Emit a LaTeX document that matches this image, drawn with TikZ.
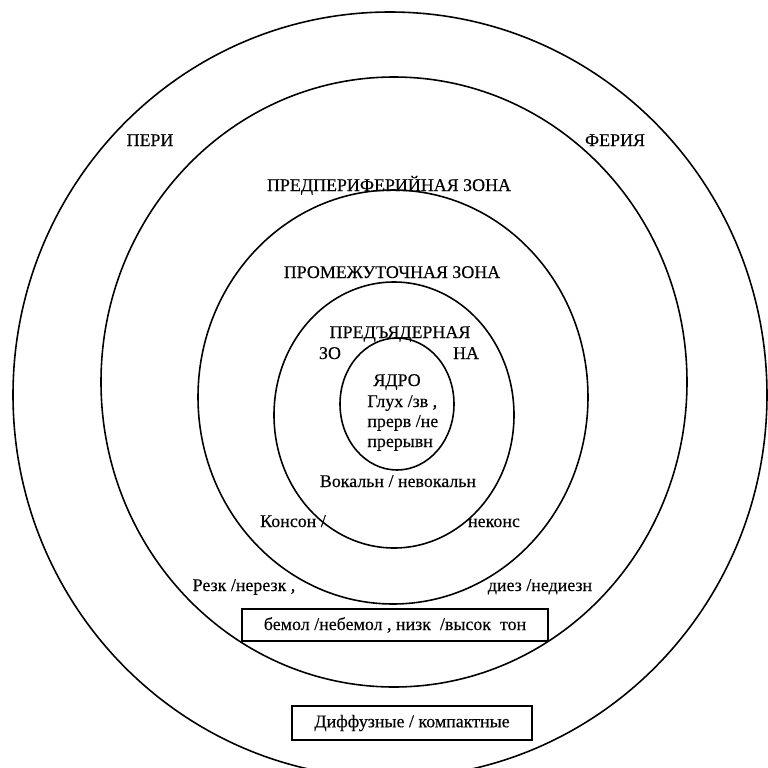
\documentclass[tikz,border=0pt]{standalone}
\usepackage{fontspec}
\setmainfont{Liberation Serif}[FakeBold=0.3]
\usetikzlibrary{positioning}
\begin{document}
\begin{tikzpicture}[x=0.02cm,y=-0.02cm,
    zone/.style={line width=0.9pt},
    lbl/.style={inner sep=0pt,anchor=base,font=\fontsize{10.2}{11.4}\selectfont},
    boxed/.style={draw,line width=0.9pt,inner sep=0pt,font=\fontsize{10.2}{11.4}\selectfont}]
  \useasboundingbox (0,0) rectangle (768,768);
  \fill[white] (0,0) rectangle (768,768);
  \draw[zone] (390,395) ellipse [x radius=377, y radius=383];
  \draw[zone] (394,382) ellipse [x radius=293, y radius=305];
  \draw[zone] (393,397) ellipse [x radius=195, y radius=207];
  \draw[zone] (394,415) ellipse [x radius=120, y radius=133];
  \draw[zone] (397,404) ellipse [x radius=57, y radius=66];
  \node[lbl](peri) at (150,146){ПЕРИ};
  \node[lbl](feriya) at (615,146){ФЕРИЯ};
  \node[lbl](predper) at (389,191){ПРЕДПЕРИФЕРИЙНАЯ ЗОНА};
  \node[lbl](promezh) at (392,278){ПРОМЕЖУТОЧНАЯ ЗОНА};
  \node[lbl](predyad) at (400,338){ПРЕДЪЯДЕРНАЯ};
  \node[lbl](zo) at (330,359){ЗО};
  \node[lbl](na) at (466,359){НА};
  \node[lbl](yadro) at (397,386){ЯДРО};
  \node[lbl,anchor=base west](gluh) at (367,407){Глух /зв ,};
  \node[lbl,anchor=base west](prerv) at (367,427){прерв /не};
  \node[lbl,anchor=base west](preryvn) at (367,447){прерывн};
  \node[lbl](vokal) at (398,487){Вокальн / невокальн};
  \node[lbl](konson) at (293,527){Консон /};
  \node[lbl](nekons) at (494,527){неконс};
  \node[lbl](rezk) at (244,591){Резк /нерезк ,};
  \node[lbl](diez) at (540,591){диез /недиезн};
  \node[boxed,minimum width=6.12cm,minimum height=0.64cm](bemol) at (395,625){бемол /небемол , низк \ /высок \ тон};
  \node[boxed,minimum width=4.8cm,minimum height=0.68cm](diff) at (412,723){Диффузные / компактные};
\end{tikzpicture}
\end{document}
